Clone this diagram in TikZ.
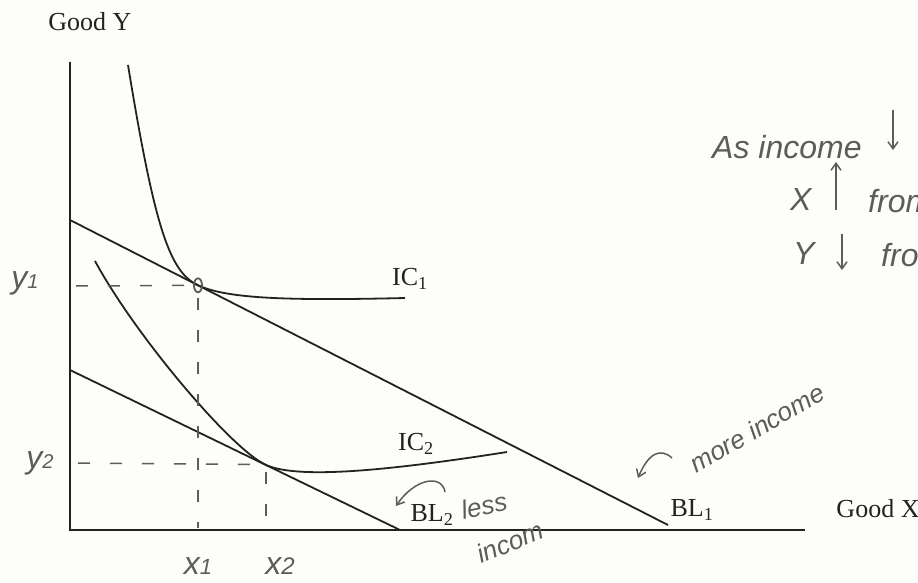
\documentclass[tikz,border=0pt]{standalone}
\usepackage{fontspec}
\setmainfont{Liberation Serif}
\newfontfamily\hand{Liberation Sans}
\usetikzlibrary{arrows.meta}
\definecolor{ink}{HTML}{222222}
\definecolor{pencil}{HTML}{5C5C5C}
\definecolor{paper}{HTML}{FDFDF9}
\begin{document}
\begin{tikzpicture}[x=1pt,y=-1pt,
  axis/.style={ink,line width=2pt},
  curve/.style={ink,line width=1.8pt},
  printed/.style={font=\fontsize{26}{28}\selectfont, text=ink, inner sep=0pt},
  handtxt/.style={font=\hand\itshape\fontsize{32}{34}\selectfont, text=pencil, inner sep=0pt},
  handsmall/.style={font=\hand\itshape\fontsize{26}{28}\selectfont, text=pencil, inner sep=0pt},
  handdash/.style={pencil,line width=1.5pt,dash pattern=on 12pt off 20pt},
  handarrow/.style={pencil,line width=1.5pt,-{Straight Barb[length=7pt,width=10pt]}}]

\fill[paper] (0,0) rectangle (918,583);
\useasboundingbox (0,0) rectangle (918,583);
\clip (0,0) rectangle (918,583);

% coordinates
\coordinate (ytop) at (70,62);
\coordinate (O) at (70,530);
\coordinate (xend) at (805,530);
\coordinate (bl1a) at (70,220);
\coordinate (bl1b) at (668,525);
\coordinate (bl2a) at (70,370);
\coordinate (bl2b) at (400,530);
\coordinate (E1) at (198,285.3);
\coordinate (E2) at (265,464.5);

% axes
\draw[axis] (ytop) -- (O) -- (xend);

% budget lines
\draw[curve] (bl1a) -- (bl1b);
\draw[curve] (bl2a) -- (bl2b);

% indifference curves
\draw[curve] (128,65) .. controls (155,230) and (170,272) .. (E1)
             .. controls (226,298) and (280,301) .. (405,298);
\draw[curve] (95,261) .. controls (135,335) and (230,447.5) .. (E2)
             .. controls (295,479) and (380,472) .. (507,452);

% hand-drawn dashed guides
\draw[handdash] (76,286) -- (E1);
\draw[handdash] (198,298) -- (198,528);
\draw[handdash] (78,463) -- (E2);
\draw[handdash] (266,472) -- (266,528);
\draw[pencil,line width=1.8pt] (E1) ellipse [x radius=4pt, y radius=7pt];

% printed labels
\node[printed] (goody) at (90,22) {Good Y};
\node[printed] (goodx) at (878,509) {Good X};
\node[printed] (ic1) at (410,279) {IC\textsubscript{1}};
\node[printed] (ic2) at (416,444) {IC\textsubscript{2}};
\node[printed] (bl2) at (432,515) {BL\textsubscript{2}};
\node[printed] (bl1) at (692,510) {BL\textsubscript{1}};

% handwritten axis labels
\node[handtxt] (y1) at (25,283) {y{\fontsize{20}{20}\selectfont 1}};
\node[handtxt] (y2) at (40,463) {y{\fontsize{20}{20}\selectfont 2}};
\node[handtxt] (x1) at (198,566) {x{\fontsize{22}{22}\selectfont 1}};
\node[handtxt] (x2) at (280,566) {x{\fontsize{24}{24}\selectfont 2}};

% handwritten notes, top right
\node[handtxt, anchor=base west] (l1a) at (712,158) {As income};
\coordinate (d1a) at (893,110);
\coordinate (d1b) at (893,150);
\draw[handarrow] (d1a) -- (d1b);
\node[handtxt, anchor=base west] (l2a) at (790,210) {X};
\coordinate (u2a) at (836,210);
\coordinate (u2b) at (836,162);
\draw[handarrow] (u2a) -- (u2b);
\node[handtxt, anchor=base west] (l2c) at (868,212) {from};
\node[handtxt, anchor=base west] (l3a) at (793,264) {Y};
\coordinate (d3a) at (842,234);
\coordinate (d3b) at (842,270);
\draw[handarrow] (d3a) -- (d3b);
\node[handtxt, anchor=base west] (l3c) at (881,266) {from};

% handwritten income notes
\node[handsmall, rotate=30] (more) at (757,428) {more income};
\coordinate (ma) at (672,458);
\coordinate (mb) at (638,478);
\draw[handarrow] (ma) .. controls (660,447) and (648,454) .. (mb);
\node[handsmall, rotate=12] (less) at (484,506) {less};
\node[handsmall, rotate=22] (incom) at (510,542) {incom};
\coordinate (la) at (445,492);
\coordinate (lb) at (396,506);
\draw[handarrow] (la) .. controls (442,474) and (415,478) .. (lb);

\end{tikzpicture}
\end{document}
